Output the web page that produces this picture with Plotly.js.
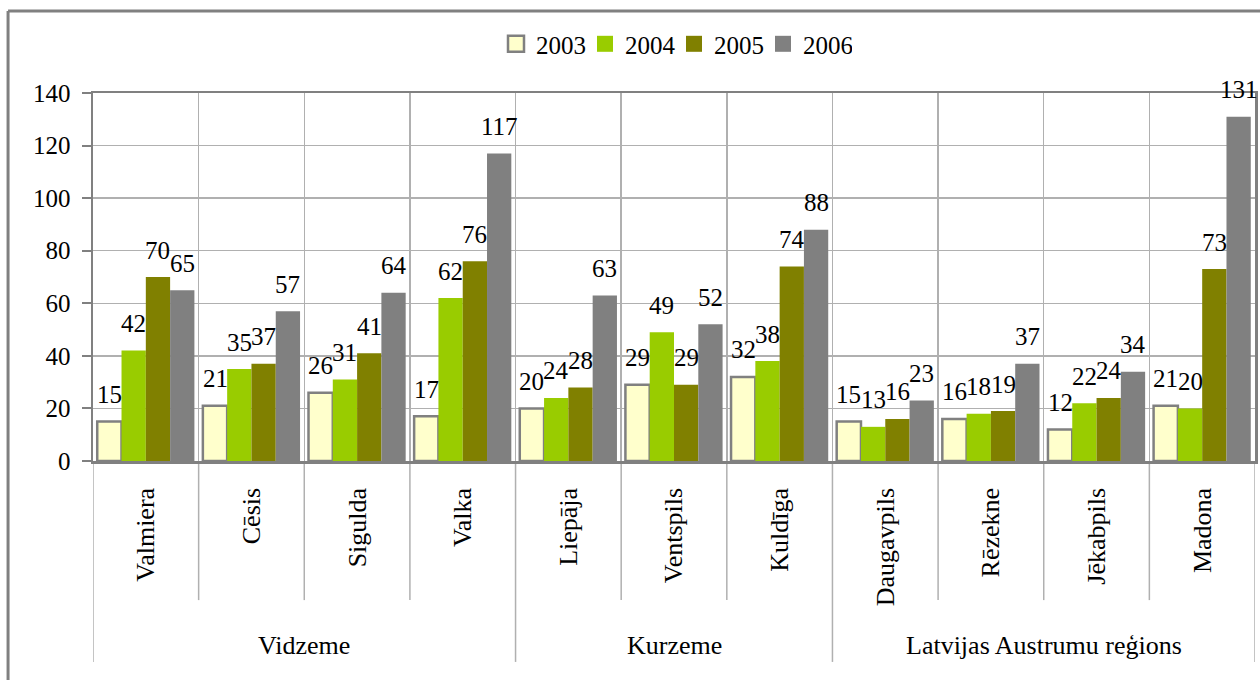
<!DOCTYPE html>
<html>
<head>
<meta charset="utf-8">
<script src="https://cdn.plot.ly/plotly-3.0.1.min.js"></script>
<style>html,body{margin:0;padding:0;background:#fff;}#chart{width:1260px;height:680px;}</style>
</head>
<body>
<div id="chart"></div>
<script>
var cities = ["Valmiera","Cēsis","Sigulda","Valka","Liepāja","Ventspils","Kuldīga","Daugavpils","Rēzekne","Jēkabpils","Madona"];
var regions = ["Vidzeme","Kurzeme","Latvijas Austrumu reģions"];
var regionCounts = [4,3,4];
var years = ["2003","2004","2005","2006"];
var v2003 = [15,21,26,17,20,29,32,15,16,12,21];
var v2004 = [42,35,31,62,24,49,38,13,18,22,20];
var v2005 = [70,37,41,76,28,29,74,16,19,24,73];
var v2006 = [65,57,64,117,63,52,88,23,37,34,131];
var series = [v2003, v2004, v2005, v2006];
var colors = ["#FFFFCC","#99CC00","#808000","#808080"];
var yTicks = [0,20,40,60,80,100,120,140];

var FONT = "'Liberation Serif', 'Times New Roman', serif";
var W = 1260, H = 680;
var M = {l:93, r:5, t:93, b:219, autoexpand:false};
var BARGAP = 0.08;
var plotW = W - M.l - M.r;
var barPx = plotW / cities.length * (1 - BARGAP) / series.length;

var traces = [];
series.forEach(function(vals, i){
  traces.push({
    type: "bar",
    name: years[i],
    x: cities,
    y: vals,
    showlegend: false,
    marker: {color: colors[i], line: {color: "#808080", width: i === 0 ? 2.5 : 0}},
    hoverinfo: "skip"
  });
});
// legend entries (square swatches)
series.forEach(function(vals, i){
  traces.push({
    type: "scatter", mode: "markers", name: years[i],
    x: [cities[0]], y: [null],
    marker: {symbol: "square", size: 16, color: colors[i], line: {color: "#808080", width: i === 0 ? 2.5 : 0}},
    hoverinfo: "skip"
  });
});

var shapes = [];
var annotations = [];
// data labels above bars
series.forEach(function(vals, i){
  vals.forEach(function(v, j){
    annotations.push({xref:"x", yref:"y", x:cities[j], y:v, xshift:(i - (series.length-1)/2) * barPx,
      yshift:27, yanchor:"middle", xanchor:"center", text:String(v), showarrow:false,
      font:{family:FONT, size:25, color:"#000"}});
  });
});
// category-axis divider lines and region labels
var boundaries = [];
var start = 0;
regionCounts.forEach(function(n){ boundaries.push(start - 0.5); start += n; });
boundaries.push(start - 0.5);
for (var b = 0; b <= cities.length; b++) {
  var pos = b - 0.5;
  var isRegion = boundaries.indexOf(pos) >= 0;
  shapes.push({type:"line", xref:"x", yref:"paper", x0:pos, x1:pos, y0:0, y1: isRegion ? -0.546 : -0.378,
    line:{color:"#b0b0b0", width:1.5}, layer:"below"});
}
start = 0;
regions.forEach(function(r, i){
  var center = start + (regionCounts[i]-1)/2;
  annotations.push({xref:"x", yref:"paper", x:center, y:-0.5, yanchor:"middle", text:r, showarrow:false,
    font:{family:FONT, size:26, color:"#000"}});
  start += regionCounts[i];
});
// chart area border (left and top visible)
shapes.push({type:"line", xref:"paper", yref:"paper", x0:-0.0731, x1:-0.0731, y0:1.2228, y1:-0.6, line:{color:"#808080", width:3}});
shapes.push({type:"line", xref:"paper", yref:"paper", x0:-0.0731, x1:1.01, y0:1.2228, y1:1.2228, line:{color:"#808080", width:3}});

var layout = {
  width: W, height: H,
  margin: M,
  paper_bgcolor: "#fff", plot_bgcolor: "#fff",
  barmode: "group", bargap: BARGAP, bargroupgap: 0,
  font: {family: FONT, size: 25, color: "#000"},
  showlegend: true,
  legend: {orientation:"h", x:0.5, xanchor:"center", y:1.133, yanchor:"middle",
    font:{family:FONT, size:25, color:"#000"}, itemsizing:"trace", traceorder:"normal",
    entrywidth:44, entrywidthmode:"pixels"},
  xaxis: {type:"category", range:[-0.5, cities.length - 0.5], tickson:"boundaries", showgrid:true, gridcolor:"#b0b0b0", gridwidth:1.5,
    tickangle:-90, ticks:"", ticklabelstandoff:14, tickfont:{family:FONT, size:26, color:"#000"},
    showline:true, linecolor:"#808080", linewidth:2.5, mirror:true, zeroline:false, fixedrange:true, automargin:false},
  yaxis: {range:[0,140], tickvals:yTicks, ticktext:yTicks.map(String), showgrid:true, gridcolor:"#b0b0b0", gridwidth:1.5,
    ticks:"outside", ticklen:9, tickcolor:"#808080", tickwidth:2, ticklabelstandoff:6,
    showline:true, linecolor:"#808080", linewidth:2.5, mirror:true, zeroline:false,
    tickfont:{family:FONT, size:25, color:"#000"}, fixedrange:true, automargin:false},
  shapes: shapes,
  annotations: annotations
};

Plotly.newPlot("chart", traces, layout, {displayModeBar:false, staticPlot:true});
</script>
</body>
</html>
